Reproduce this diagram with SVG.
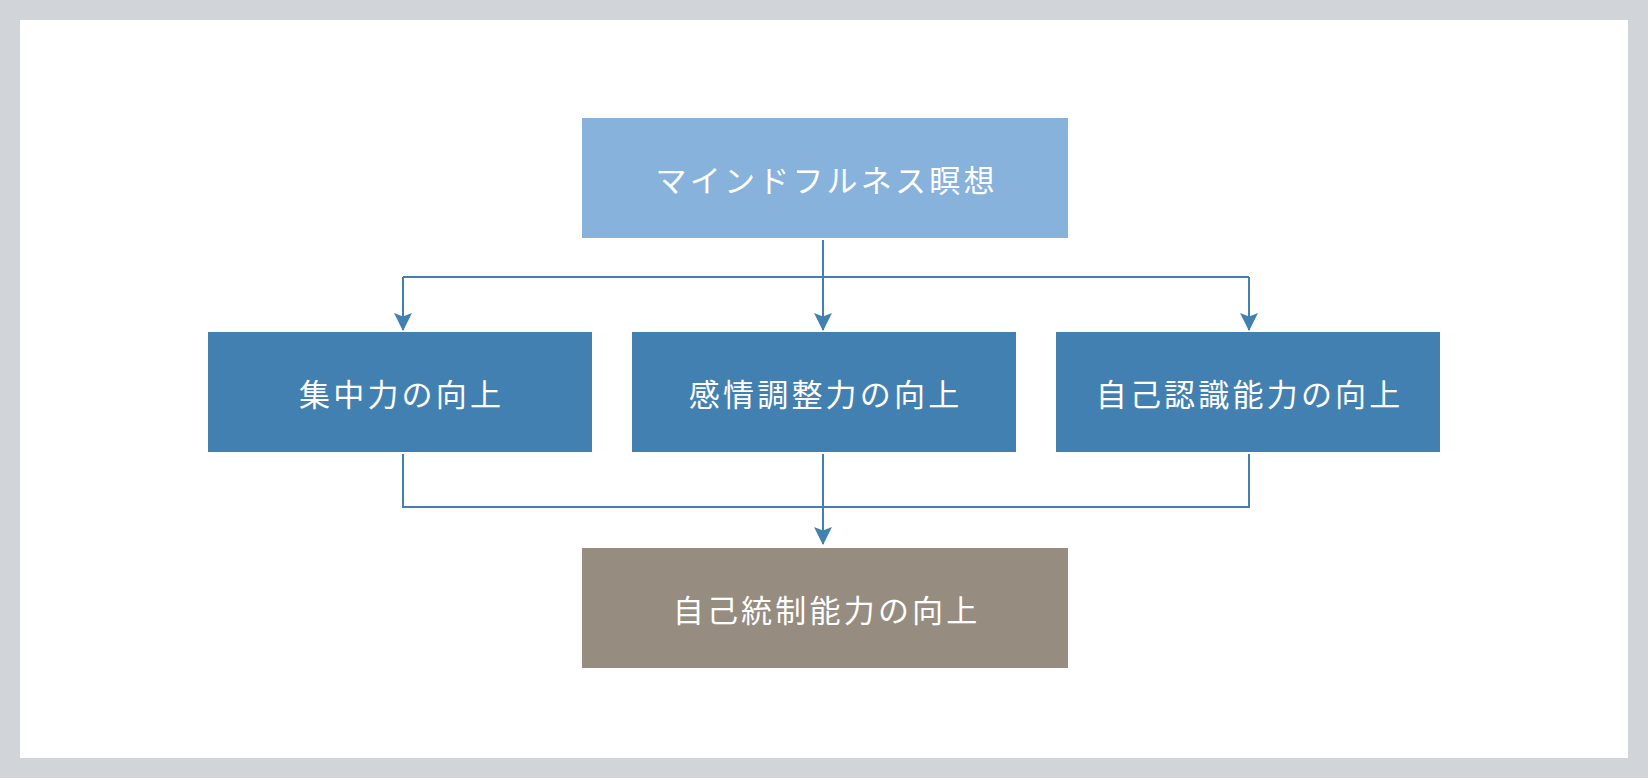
<svg xmlns="http://www.w3.org/2000/svg" width="1648" height="778" viewBox="0 0 1648 778">
<style>
.lbl{font-family:"Noto Sans CJK JP","Noto Sans CJK SC",sans-serif;font-size:31px;letter-spacing:3.2px;fill:#ffffff;text-anchor:middle;dominant-baseline:central}
.ln{fill:none;stroke:#4280b0;stroke-width:2}
</style>
<defs>
<marker id="ah" markerWidth="18" markerHeight="18" refX="17" refY="9" orient="auto" markerUnits="userSpaceOnUse" viewBox="0 0 18 18">
<path d="M0,0 L18,9 L0,18 L3.5,9 Z" fill="#4280b0"/>
</marker>
</defs>
<rect x="0" y="0" width="1648" height="778" fill="#d1d5d9"/>
<rect x="20" y="20" width="1608" height="738" fill="#ffffff"/>
<g id="connectors">
<path class="ln" d="M823,240 V330" marker-end="url(#ah)"/>
<path class="ln" d="M403,277 H1249"/>
<path class="ln" d="M403,277 V330" marker-end="url(#ah)"/>
<path class="ln" d="M1249,277 V330" marker-end="url(#ah)"/>
<path class="ln" d="M403,454 V507 H1249 V454"/>
<path class="ln" d="M823,454 V544" marker-end="url(#ah)"/>
</g>
<g id="n-meditation">
<rect x="582" y="118" width="486" height="120" fill="#87b2dc"/>
<text class="lbl" x="826.6" y="178">マインドフルネス瞑想</text>
</g>
<g id="n-focus">
<rect x="208" y="332" width="384" height="120" fill="#4380b2"/>
<text class="lbl" x="401.6" y="392">集中力の向上</text>
</g>
<g id="n-emotion">
<rect x="632" y="332" width="384" height="120" fill="#4380b2"/>
<text class="lbl" x="825.6" y="392">感情調整力の向上</text>
</g>
<g id="n-awareness">
<rect x="1056" y="332" width="384" height="120" fill="#4380b2"/>
<text class="lbl" x="1249.6" y="392">自己認識能力の向上</text>
</g>
<g id="n-selfcontrol">
<rect x="582" y="548" width="486" height="120" fill="#968c80"/>
<text class="lbl" x="826.6" y="608">自己統制能力の向上</text>
</g>
</svg>
